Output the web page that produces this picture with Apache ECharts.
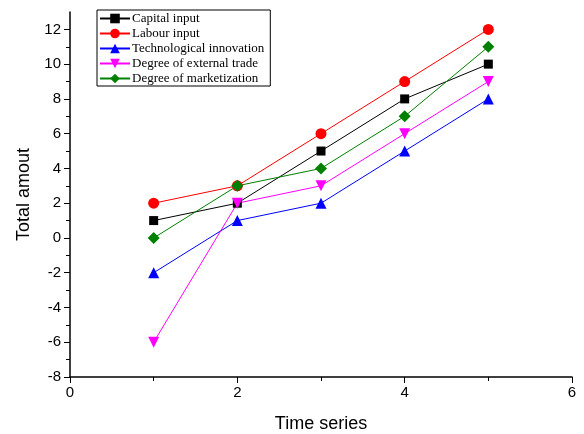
<!DOCTYPE html>
<html>
<head>
<meta charset="utf-8">
<script src="https://cdn.jsdelivr.net/npm/echarts@6/dist/echarts.min.js"></script>
<style>
html, body { margin: 0; padding: 0; background: #fff; }
#chart { width: 584px; height: 434px; }
</style>
</head>
<body>
<div id="chart"></div>
<script>
// time points and series values
var timeSeries = [1, 2, 3, 4, 5];
var capitalInput = [1, 2, 5, 8, 10];
var labourInput = [2, 3, 6, 9, 12];
var techInnovation = [-2, 1, 2, 5, 8];
var externalTrade = [-6, 2, 3, 6, 9];
var marketization = [0, 3, 4, 7, 11];
var yTicks = [-8, -6, -4, -2, 0, 2, 4, 6, 8, 10, 12];

(function(){

    var myChart = echarts.init(document.getElementById("chart"));

    function pairs(vals) {
        return timeSeries.map(function(t, i){ return [t, vals[i]]; });
    }

    function line(name, data, color, symbol, size, rotate) {
        return {
            name: name,
            type: 'line',
            data: pairs(data),
            symbol: symbol,
            symbolSize: size,
            symbolRotate: rotate || 0,
            lineStyle: { color: color, width: 1 },
            itemStyle: { color: color },
            animation: false
        };
    }

    var option = {
        backgroundColor: '#fff',
        grid: {
            left: 70,
            right: 12,
            top: 12,
            bottom: 57,
            outerBoundsMode: 'none'
        },
        legend: {
            orient: 'vertical',
            left: 97,
            top: 10,
            itemWidth: 30,
            itemHeight: 12,
            itemGap: 2,
            padding: [2, 6, 1, 2],
            borderColor: '#000',
            borderWidth: 1,
            borderRadius: 0,
            textStyle: {
                fontFamily: 'Liberation Serif',
                fontSize: 13,
                color: '#000',
                padding: [0, 0, 0, -3]
            },
            data: ['Capital input', 'Labour input', 'Technological innovation',
                   'Degree of external trade', 'Degree of marketization']
        },
        xAxis: {
            type: 'value',
            min: 0,
            max: 6,
            interval: 2,
            name: 'Time series',
            nameLocation: 'middle',
            nameGap: 38,
            nameTextStyle: { fontFamily: 'Liberation Sans', fontSize: 18, color: '#000' },
            axisLine: { onZero: false, lineStyle: { color: '#000', width: 1.5 } },
            axisTick: { show: true, inside: false, length: 6, lineStyle: { color: '#000' } },
            minorTick: { show: true, splitNumber: 2, length: 4, lineStyle: { color: '#000' } },
            axisLabel: { fontFamily: 'Liberation Sans', fontSize: 15, color: '#000', margin: 8 },
            splitLine: { show: false }
        },
        yAxis: {
            type: 'value',
            min: -8,
            max: 13,
            interval: 2,
            name: 'Total amout',
            nameLocation: 'middle',
            nameGap: 36,
            nameTextStyle: { fontFamily: 'Liberation Sans', fontSize: 18, color: '#000' },
            axisLine: { show: true, onZero: false, lineStyle: { color: '#000', width: 1.5 } },
            axisTick: { show: true, inside: false, length: 6, lineStyle: { color: '#000' },
                        customValues: yTicks },
            minorTick: { show: true, splitNumber: 2, length: 4, lineStyle: { color: '#000' } },
            axisLabel: { fontFamily: 'Liberation Sans', fontSize: 15, color: '#000', margin: 9,
                         customValues: yTicks },
            splitLine: { show: false }
        },
        series: [
            line('Capital input', capitalInput, '#000000', 'rect', 9),
            line('Labour input', labourInput, '#ff0000', 'circle', 11),
            line('Technological innovation', techInnovation, '#0000ff', 'triangle', 11),
            line('Degree of external trade', externalTrade, '#ff00ff', 'triangle', 11, 180),
            line('Degree of marketization', marketization, '#008000', 'diamond', 12)
        ]
    };

    myChart.setOption(option);
})();
</script>
</body>
</html>
